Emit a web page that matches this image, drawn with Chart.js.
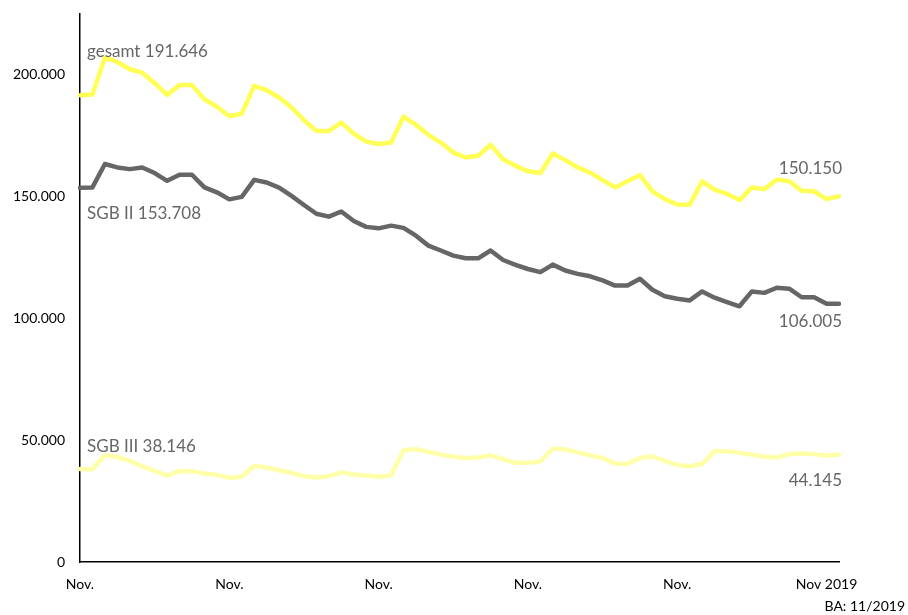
<!DOCTYPE html>
<html>
<head>
<meta charset="utf-8">
<script src="https://cdn.jsdelivr.net/npm/chart.js@4/dist/chart.umd.min.js"></script>
<style>
  body { margin: 0; background: #fff; }
</style>
</head>
<body>
<canvas id="lineChart" width="908" height="615"></canvas>
<script>
// Nov 2014 .. Dez 2019, one entry per month
var months = [
  "11/14", "12/14", "01/15", "02/15", "03/15", "04/15", "05/15", "06/15", "07/15", "08/15", "09/15", "10/15",
  "11/15", "12/15", "01/16", "02/16", "03/16", "04/16", "05/16", "06/16", "07/16", "08/16", "09/16", "10/16",
  "11/16", "12/16", "01/17", "02/17", "03/17", "04/17", "05/17", "06/17", "07/17", "08/17", "09/17", "10/17",
  "11/17", "12/17", "01/18", "02/18", "03/18", "04/18", "05/18", "06/18", "07/18", "08/18", "09/18", "10/18",
  "11/18", "12/18", "01/19", "02/19", "03/19", "04/19", "05/19", "06/19", "07/19", "08/19", "09/19", "10/19",
  "11/19", "12/19",
];

var tickLabels = [
  "Nov.", "", "", "", "", "", "", "", "", "", "", "",
  "Nov.", "", "", "", "", "", "", "", "", "", "", "",
  "Nov.", "", "", "", "", "", "", "", "", "", "", "",
  "Nov.", "", "", "", "", "", "", "", "", "", "", "",
  "Nov.", "", "", "", "", "", "", "", "", "", "", "",
  "Nov 2019", "",
];

var gesamt = [
  191646, 191900, 207100, 205300, 202300, 200900, 196600, 191800, 195800, 195800, 190000, 186900,
  183000, 184100, 195500, 193700, 190700, 186600, 181400, 177000, 177000, 180400, 175900, 172600,
  171600, 172200, 182900, 179500, 175400, 172200, 168100, 166100, 166800, 171300, 165400, 162700,
  160400, 159700, 167700, 165000, 162000, 159900, 156800, 153800, 156300, 158900, 152200, 149000,
  146800, 146700, 156300, 152900, 151100, 148600, 153800, 153100, 157000, 156300, 152400, 152200,
  149000, 150150,
];

var sgb2 = [
  153708, 153800, 163400, 162000, 161300, 162000, 159700, 156500, 159000, 159000, 153800, 151800,
  148900, 149900, 156900, 155800, 153700, 150300, 146600, 143000, 141800, 143900, 140000, 137600,
  137000, 138100, 137200, 134000, 129900, 127900, 125800, 124700, 124700, 127900, 124000, 122000,
  120300, 119000, 122100, 119700, 118300, 117300, 115600, 113500, 113500, 116300, 111800, 109100,
  108100, 107400, 111100, 108500, 106700, 105000, 111100, 110500, 112600, 112200, 108700, 108700,
  106000, 106005,
];

var sgb3 = [
  38146, 38100, 43800, 43200, 41500, 39300, 37400, 35500, 37300, 37300, 36300, 35800,
  34500, 35000, 39500, 38800, 37700, 36600, 35200, 34700, 35200, 36800, 35900, 35500,
  35000, 35500, 45900, 46300, 45200, 44100, 43200, 42700, 42900, 43800, 42200, 40700,
  40700, 41300, 46600, 46200, 45000, 43800, 42700, 40400, 40200, 42700, 43400, 41500,
  39800, 39300, 40200, 45500, 45500, 44800, 44100, 43200, 42900, 44300, 44500, 44300,
  43600, 44145,
];

var seriesNames = ["gesamt", "SGB II", "SGB III"];
var yTicks = [0, 50000, 100000, 150000, 200000];

function fmt(v) {
  return String(v).replace(/\B(?=(\d{3})+(?!\d))/g, ".");
}

var textFont = "Lato, 'Open Sans', sans-serif";

// start/end value labels next to the lines
var endLabels = {
  id: "endLabels",
  afterDatasetsDraw: function (chart) {
    var c = chart.ctx;
    var x = chart.scales.x, y = chart.scales.y;
    var last = months.length - 1;
    c.save();
    c.font = "17px " + textFont;
    c.fillStyle = "#666666";
    c.textBaseline = "middle";
    var sets = [gesamt, sgb2, sgb3];
    var startDy = [-44, 26, -23];
    var endDy = [-28, 18, 26];
    for (var i = 0; i < sets.length; i++) {
      var d = sets[i];
      c.textAlign = "left";
      c.fillText(seriesNames[i] + " " + fmt(d[0]), x.getPixelForValue(0) + 7, y.getPixelForValue(d[0]) + startDy[i]);
      c.textAlign = "right";
      c.fillText(fmt(d[last]), x.getPixelForValue(last) + 3, y.getPixelForValue(d[last]) + endDy[i]);
    }
    c.font = "14px " + textFont;
    c.fillStyle = "#000000";
    c.textAlign = "right";
    c.fillText("BA: 11/2019", chart.width - 3, 606);
    c.restore();
  },
};

var ctx = document.getElementById("lineChart").getContext("2d");
var myChart = new Chart(ctx, {
  type: "line",
  data: {
    labels: months,
    datasets: [
      {
        label: seriesNames[2],
        data: sgb3,
        borderColor: "rgb(255,255,170)",
      },
      {
        label: seriesNames[1],
        data: sgb2,
        borderColor: "rgb(102,102,102)",
      },
      {
        label: seriesNames[0],
        data: gesamt,
        borderColor: "rgb(255,255,85)",
      },
    ],
  },
  options: {
    responsive: false,
    animation: false,
    layout: { padding: { top: 14, right: 69, bottom: 13, left: 0 } },
    elements: {
      line: { borderWidth: 4.5, tension: 0, borderJoinStyle: "round", borderCapStyle: "round" },
      point: { radius: 0 },
    },
    plugins: {
      legend: { display: false },
      tooltip: { enabled: false },
    },
    scales: {
      x: {
        offset: false,
        grid: { display: false, drawTicks: false },
        border: { display: true, color: "#000", width: 1.5 },
        afterFit: function (s) {
          s.height = 40;
          s.paddingLeft = 0;
          s.paddingRight = 0;
        },
        ticks: {
          autoSkip: false,
          maxRotation: 0,
          padding: 14,
          color: "#000",
          font: { family: textFont, size: 14 },
          callback: function (v, i) { return tickLabels[i]; },
        },
      },
      y: {
        min: 0,
        max: 225000,
        grid: { display: false, drawTicks: false },
        border: { display: true, color: "#000", width: 1.5 },
        afterFit: function (s) {
          s.width = 80;
          s.paddingTop = 0;
          s.paddingBottom = 0;
        },
        afterBuildTicks: function (s) {
          s.ticks = yTicks.map(function (v) { return { value: v }; });
        },
        ticks: {
          padding: 15,
          color: "#000",
          font: { family: textFont, size: 14 },
          callback: function (v) { return fmt(v); },
        },
      },
    },
  },
  plugins: [endLabels],
});
</script>
</body>
</html>
